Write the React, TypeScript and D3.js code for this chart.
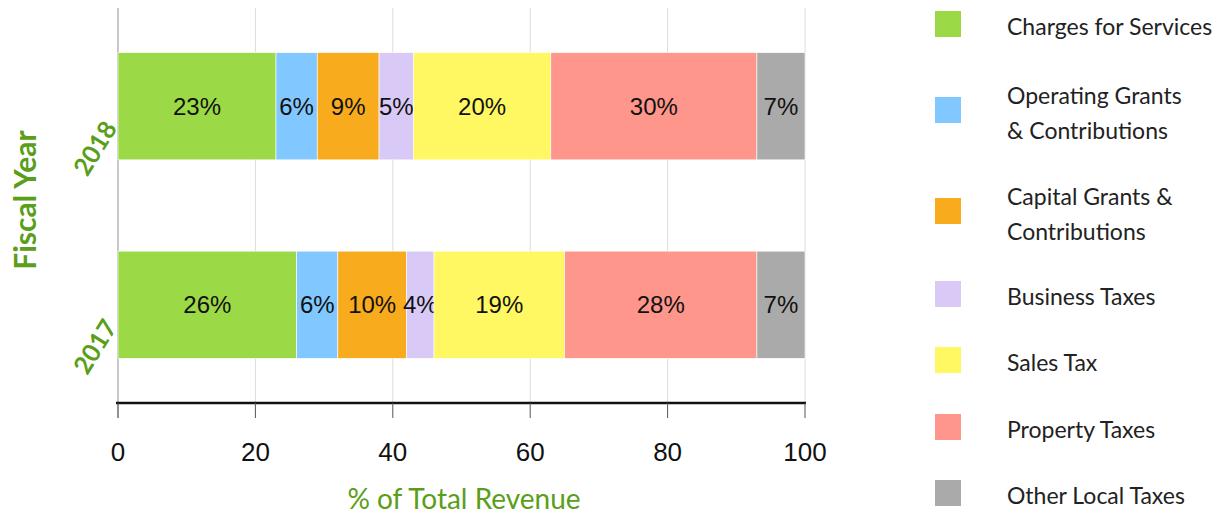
import React from "react";
import * as d3 from "d3";

const years = ["2018", "2017"];
const series = [
  "Charges for Services",
  "Operating Grants & Contributions",
  "Capital Grants & Contributions",
  "Business Taxes",
  "Sales Tax",
  "Property Taxes",
  "Other Local Taxes",
];
const legendLines = [
  ["Charges for Services"],
  ["Operating Grants", "& Contributions"],
  ["Capital Grants &", "Contributions"],
  ["Business Taxes"],
  ["Sales Tax"],
  ["Property Taxes"],
  ["Other Local Taxes"],
];
const values2018 = [23, 6, 9, 5, 20, 30, 7];
const values2017 = [26, 6, 10, 4, 19, 28, 7];
const colors = ["#9cd946", "#80c8ff", "#f9ab1e", "#d9c9f7", "#fff862", "#ff968b", "#aaaaaa"];
const xTicks = [0, 20, 40, 60, 80, 100];
const legendY = [24, 110, 211, 294, 360, 427, 493];

const dataByYear: Record<string, number[]> = { "2018": values2018, "2017": values2017 };

export default function App() {
  const W = 1218, H = 518;
  const x = d3.scaleLinear().domain([0, 100]).range([118, 805]);
  const y = d3.scaleBand().domain(years).range([8, 403]).paddingInner(0.46).paddingOuter(0.225);
  const green = "#5a9e1a";
  const numFont = "'Liberation Sans', Arial, sans-serif";
  const txtFont = "Lato, 'Open Sans', sans-serif";

  const stacks = years.map((yr) => {
    const vals = dataByYear[yr];
    let acc = 0;
    return vals.map((v, i) => {
      const s = { year: yr, i, x0: acc, x1: acc + v, v };
      acc += v;
      return s;
    });
  });

  return (
    <svg width={W} height={H} style={{ position: "absolute", left: 0, top: 0, background: "#fff" }}>
      {xTicks.map((t) => (
        <line key={"g" + t} x1={x(t)} x2={x(t)} y1={8} y2={403} stroke="#dcdcdc" strokeWidth={1} />
      ))}
      <line x1={x(0)} x2={x(0)} y1={8} y2={418} stroke="#b0b0b0" strokeWidth={1.2} />
      {stacks.map((row) =>
        row.map((s) => (
          <g key={s.year + s.i}>
            <rect
              x={x(s.x0)}
              y={y(s.year)!}
              width={x(s.x1) - x(s.x0)}
              height={y.bandwidth()}
              fill={colors[s.i]}
              stroke="#ffffff"
              strokeWidth={0.6}
            />
            <text
              x={(x(s.x0) + x(s.x1)) / 2}
              y={y(s.year)! + y.bandwidth() / 2}
              textAnchor="middle"
              dominantBaseline="central"
              fontFamily={numFont}
              fontSize={24}
              fill="#111"
            >
              {s.v + "%"}
            </text>
          </g>
        ))
      )}
      <line x1={116} x2={806} y1={403} y2={403} stroke="#111" strokeWidth={2.5} />
      {xTicks.map((t) => (
        <g key={"t" + t}>
          <line x1={x(t)} x2={x(t)} y1={403} y2={418} stroke="#555" strokeWidth={1} />
          <text x={x(t)} y={452} textAnchor="middle" dominantBaseline="central" fontFamily={numFont} fontSize={26} fill="#111">
            {t}
          </text>
        </g>
      ))}
      {years.map((yr) => {
        const cy = y(yr)! + y.bandwidth() / 2;
        return (
          <text
            key={"y" + yr}
            transform={`translate(118,${cy + 22}) rotate(-58)`}
            textAnchor="end"
            fontFamily={txtFont}
            fontWeight="bold"
            fontSize={25}
            fill={green}
          >
            {yr}
          </text>
        );
      })}
      <text
        transform="translate(36,200) rotate(-90)"
        textAnchor="middle"
        fontFamily={txtFont}
        fontWeight="bold"
        fontSize={30}
        fill={green}
      >
        Fiscal Year
      </text>
      <text x={464} y={509} textAnchor="middle" fontFamily={txtFont} fontSize={28} fill={green}>
        % of Total Revenue
      </text>
      {series.map((s, i) => {
        const cy = legendY[i];
        const lines = legendLines[i];
        return (
          <g key={"l" + i}>
            <rect x={935} y={cy - 13} width={26} height={26} fill={colors[i]} />
            {lines.map((ln, j) => (
              <text
                key={j}
                x={1007}
                y={cy + 2 + (j - (lines.length - 1) / 2) * 35}
                dominantBaseline="central"
                fontFamily={txtFont}
                fontSize={23}
                fill="#222"
              >
                {ln}
              </text>
            ))}
          </g>
        );
      })}
    </svg>
  );
}
